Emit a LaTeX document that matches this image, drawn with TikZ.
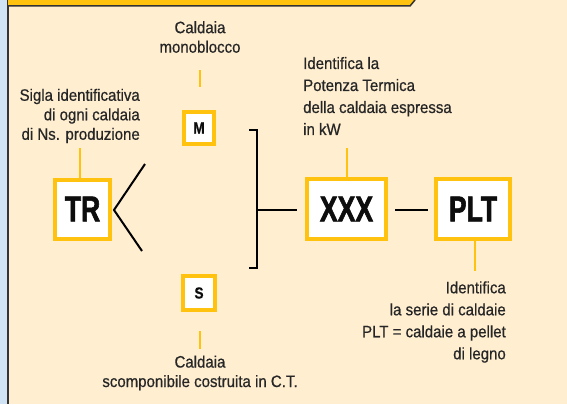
\documentclass[tikz,border=0pt]{standalone}
\usepackage{fontspec}
\setmainfont{Liberation Sans}[FakeStretch=0.8]
\newfontfamily\descfont{Liberation Sans}[FakeStretch=0.91, FakeBold=0.6]
\newfontfamily\boxfont{Liberation Sans Bold}[FakeStretch=0.74, FakeBold=1.6]
\newfontfamily\smallboxfont{Liberation Sans Bold}[FakeStretch=0.85, FakeBold=0.8]
\definecolor{ybox}{HTML}{FFC20E}
\definecolor{cream}{HTML}{FFEED0}
\definecolor{bluestrip}{HTML}{CFE3F5}
\definecolor{darkline}{HTML}{333333}
\tikzset{
  box/.style={draw=ybox, line width=4pt, fill=white, inner sep=0pt, text=black!95},
  bigbox/.style={box, minimum height=60pt, font=\boxfont\fontsize{36}{36}\selectfont},
  smallbox/.style={box, font=\smallboxfont\fontsize{16}{16}\selectfont},
  desc/.style={inner sep=0pt, text=black!85, font=\descfont\fontsize{16.5}{19.5}\selectfont},
  desc2/.style={inner sep=0pt, text=black!85, font=\descfont\fontsize{16.5}{22}\selectfont},
  tick/.style={draw=ybox, line width=2pt},
  conn/.style={draw=black, line width=2pt},
}
\begin{document}
\begin{tikzpicture}[x=1pt,y=1pt]
\useasboundingbox (0,0) rectangle (567,-404);
% background
\fill[cream] (0,0) rectangle (567,-404);
\fill[bluestrip] (0,0) rectangle (7,-404);
\draw[darkline, line width=1.5pt] (7.75,0) -- (7.75,-404);
% banner
\fill[ybox] (8,0) -- (415,0) -- (410,-6) -- (8,-6) -- cycle;
\draw[darkline, line width=1.5pt] (8,-6) -- (410,-6) -- (415,0);
% boxes
\node[bigbox, minimum width=55pt, minimum height=59pt] (tr) at (82.5,-209) {TR};
\node[bigbox, minimum width=79pt] (xxx) at (346.5,-209) {XXX};
\node[bigbox, minimum width=74pt] (plt) at (473,-209) {PLT};
\node[smallbox, minimum width=30pt, minimum height=32pt] (m) at (199,-128) {M};
\node[smallbox, minimum width=32pt, minimum height=34pt] (s) at (199,-293) {S};
% texts
\node[desc, align=center] (tm) at (200,-37) {Caldaia\\monoblocco};
\node[desc, align=right, anchor=east] (tsig) at (140,-116) {Sigla identificativa\\di ogni caldaia\\di Ns. produzione};
\node[desc2, align=left, anchor=west] (tid) at (303,-96) {Identifica la\\Potenza Termica\\della caldaia espressa\\in kW};
\node[desc2, align=right, anchor=east] (tplt) at (506,-322) {Identifica\\la serie di caldaie\\PLT = caldaie a pellet\\di legno};
\node[desc, align=center] (ts) at (200,-373) {Caldaia\\scomponibile costruita in C.T.};
% ticks
\coordinate (mt1) at (200,-70);
\coordinate (mt2) at (200,-87);
\draw[tick] (mt1) -- (mt2);
\coordinate (st1) at (200,-331);
\coordinate (st2) at (200,-349);
\draw[tick] (st1) -- (st2);
\coordinate (sigt) at (80,-148);
\draw[tick] (sigt) -- (sigt |- tr.north);
\coordinate (idt) at (347,-148);
\draw[tick] (idt) -- (idt |- xxx.north);
\coordinate (pltt) at (475,-271);
\draw[tick] (pltt |- plt.south) -- (pltt);
% connectors
\coordinate (apex) at (114,-210);
\coordinate (up) at (145,-164);
\coordinate (down) at (142,-251);
\draw[conn] (up) -- (apex) -- (down);
\coordinate (bt) at (257,-130);
\coordinate (bb) at (257,-268);
\coordinate (bm) at (257,-210);
\draw[conn] ([xshift=-8pt]bt) -- (bt) -- (bb) -- ([xshift=-8pt]bb);
\coordinate (xin) at (297,-210);
\draw[conn] (bm) -- (xin);
\coordinate (xo) at (395,-210);
\coordinate (pin) at (428,-210);
\draw[conn] (xo) -- (pin);
\end{tikzpicture}
\end{document}
